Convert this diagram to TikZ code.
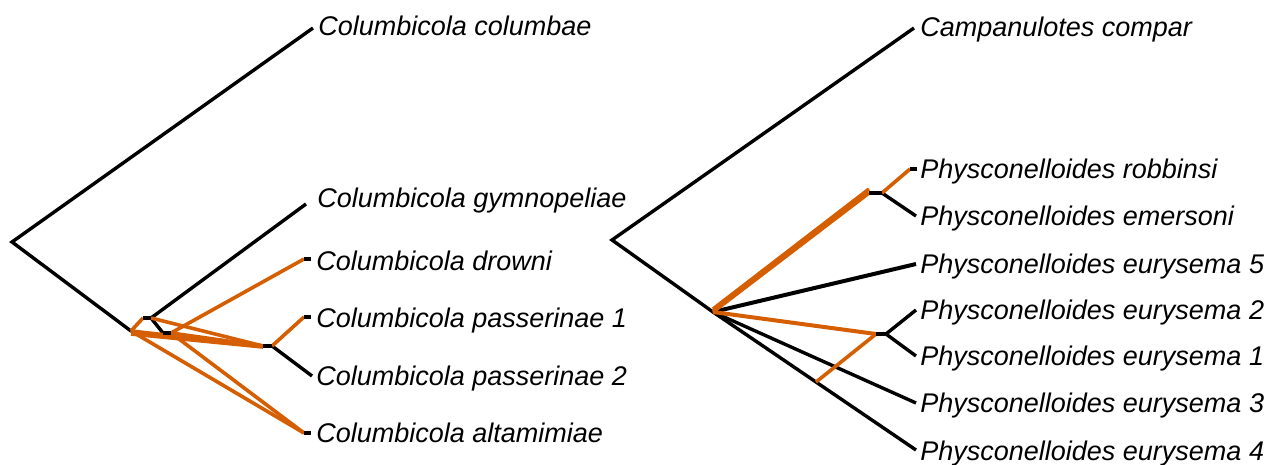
\documentclass[tikz,border=0pt]{standalone}
\usepackage{fontspec}
\setmainfont{Liberation Sans}
\definecolor{verm}{RGB}{213,94,0}
\begin{document}
\begin{tikzpicture}[x=0.5pt,y=-0.5pt,
  br/.style={line width=1.7pt, black},
  ob/.style={line width=1.8pt, verm},
  tk/.style={line width=2.4pt, black},
  lab/.style={anchor=base west, inner sep=0pt, font=\fontsize{13.5pt}{16pt}\selectfont\itshape}]
\useasboundingbox (0,0) rectangle (1269,465);
% ---------------- left tree ----------------
\coordinate (L0) at (12,242);
\coordinate (LA) at (131,331);
\coordinate (LB) at (143,318); \coordinate (LB2) at (151,318);
\coordinate (LC) at (163,333); \coordinate (LC2) at (171,333);
\coordinate (LP) at (263,346); \coordinate (LP2) at (272,346);
\coordinate (Lcol) at (313,28);
\coordinate (Lgym) at (306,204);
\coordinate (Ldro0) at (304,259); \coordinate (Ldro) at (311,259);
\coordinate (Lpa10) at (304,317); \coordinate (Lpa1) at (311,317);
\coordinate (Lpa2) at (312,376);
\coordinate (Lalt0) at (304,433); \coordinate (Lalt) at (311,433);

\draw[br] (Lcol) -- (L0) -- (LA);
\draw[br] (LB2) -- (Lgym);
\draw[br] (LB2) -- (LC);
\draw[br] (LP2) -- (Lpa2);
\draw[ob] (LA) -- (LB);
\draw[ob] (LA) -- (LP);
\draw[ob] ([yshift=-1.5]LA) -- ([yshift=-0.5]LP);
\draw[ob] (LB2) -- (LP);
\draw[ob] (LC2) -- (LP);
\draw[ob] (LC2) -- (Ldro0);
\draw[ob] (LA) -- (Lalt0);
\draw[ob] (LC2) -- (Lalt0);
\draw[ob] (LP2) -- (Lpa10);
\draw[tk] (LB) -- (LB2);
\draw[tk] (LC) -- (LC2);
\draw[tk] (LP) -- (LP2);
\draw[tk] (Ldro0) -- (Ldro);
\draw[tk] (Lpa10) -- (Lpa1);
\draw[tk] (Lalt0) -- (Lalt);

\node[lab] (nLcol) at (318,36) {Columbicola columbae};
\node[lab] (nLgym) at (317,207) {Columbicola gymnopeliae};
\node[lab] (nLdro) at (316,270) {Columbicola drowni};
\node[lab] (nLpa1) at (316,327) {Columbicola passerinae 1};
\node[lab] (nLpa2) at (316,385) {Columbicola passerinae 2};
\node[lab] (nLalt) at (316,442) {Columbicola altamimiae};

% ---------------- right tree ----------------
\coordinate (R0) at (612,240);
\coordinate (RA) at (713,312);
\coordinate (RB) at (869,193); \coordinate (RB2) at (882,193);
\coordinate (RP) at (876,334); \coordinate (RP2) at (886,334);
\coordinate (RX) at (816,382);
\coordinate (Rcom) at (914,28);
\coordinate (Rrob0) at (910,169); \coordinate (Rrob) at (917,169);
\coordinate (Reme) at (916,216);
\coordinate (Re5) at (916,264);
\coordinate (Re2) at (916,310);
\coordinate (Re1) at (916,356);
\coordinate (Re3) at (916,403);
\coordinate (Re4) at (916,450);

\draw[br] (Rcom) -- (R0) -- (RA);
\draw[br, line width=2pt] (RA) -- (Re5);
\draw[br] (RA) -- (Re3);
\draw[br] (RA) -- (Re4);
\draw[br] (RB2) -- (Reme);
\draw[br] (RP2) -- (Re2);
\draw[br] (RP2) -- (Re1);
\draw[ob] (RA) -- (RB);
\draw[ob] ([yshift=1.5]RA) -- ([yshift=2]RB);
\draw[ob] (RB2) -- (Rrob0);
\draw[ob, line width=2pt] (RA) -- (RP);
\draw[ob] (RP) -- (RX);
\draw[tk] (RB) -- (RB2);
\draw[tk] (RP) -- (RP2);
\draw[tk] (Rrob0) -- (Rrob);

\node[lab] (nRcom) at (920,37) {Campanulotes compar};
\node[lab] (nRrob) at (920,178) {Physconelloides robbinsi};
\node[lab] (nReme) at (920,225) {Physconelloides emersoni};
\node[lab] (nRe5) at (920,273) {Physconelloides eurysema 5};
\node[lab] (nRe2) at (920,319) {Physconelloides eurysema 2};
\node[lab] (nRe1) at (920,365) {Physconelloides eurysema 1};
\node[lab] (nRe3) at (920,412) {Physconelloides eurysema 3};
\node[lab] (nRe4) at (920,460) {Physconelloides eurysema 4};
\end{tikzpicture}
\end{document}
